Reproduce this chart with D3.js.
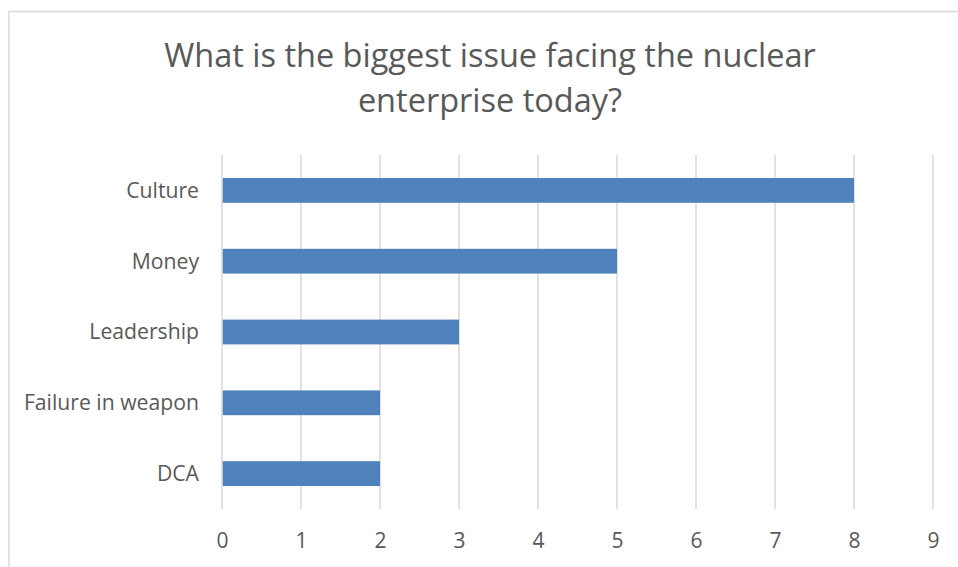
<!DOCTYPE html>
<html>
<head>
<meta charset="utf-8">
<script src="https://cdn.jsdelivr.net/npm/d3@7"></script>
<style>
  html, body { margin: 0; padding: 0; background: #ffffff; }
  svg { display: block; font-family: "Open Sans", "Noto Sans", sans-serif; }
</style>
</head>
<body>
<svg id="chart" width="958" height="567"></svg>
<script>
// Survey answers: count of responses per issue
const categories = ["Culture", "Money", "Leadership", "Failure in weapon", "DCA"];
const responses = [8, 5, 3, 2, 2];
const xTicks = [0, 1, 2, 3, 4, 5, 6, 7, 8, 9];
const titleLines = ["What is the biggest issue facing the nuclear", "enterprise today?"];

const svg = d3.select("#chart");
const W = 958, H = 567;

const plot = { left: 222, right: 933, top: 155, bottom: 509 };
const textColor = "#595959";
const gridColor = "#d9d9d9";
const barColor = "#4f81bd";

// Chart frame
svg.append("rect")
  .attr("x", 9).attr("y", 11.5)
  .attr("width", W).attr("height", H)
  .attr("fill", "#ffffff")
  .attr("stroke", gridColor)
  .attr("stroke-width", 1.5);

// Title
svg.append("g")
  .selectAll("text")
  .data(titleLines)
  .join("text")
  .attr("x", 490)
  .attr("y", (d, i) => 67 + i * 45)
  .attr("text-anchor", "middle")
  .attr("fill", textColor)
  .attr("font-size", 32.5)
  .text(d => d);

const x = d3.scaleLinear()
  .domain([xTicks[0], xTicks[xTicks.length - 1]])
  .range([plot.left, plot.right]);

const y = d3.scaleBand()
  .domain(categories)
  .range([plot.top, plot.bottom])
  .paddingInner(0.65)
  .paddingOuter(0.325);

// Vertical gridlines
svg.append("g")
  .selectAll("line")
  .data(xTicks)
  .join("line")
  .attr("x1", d => x(d)).attr("x2", d => x(d))
  .attr("y1", plot.top).attr("y2", plot.bottom)
  .attr("stroke", gridColor)
  .attr("stroke-width", 1.5);

// Bars
svg.append("g")
  .selectAll("rect")
  .data(categories.map((c, i) => ({ c, v: responses[i] })))
  .join("rect")
  .attr("x", x(0) + 0.75)
  .attr("y", d => y(d.c))
  .attr("width", d => x(d.v) - x(0) - 0.75)
  .attr("height", y.bandwidth())
  .attr("fill", barColor);

// Bottom axis labels
const xAxis = d3.axisBottom(x).tickValues(xTicks).tickSize(0).tickPadding(0).tickFormat(d3.format("d"));
const gx = svg.append("g")
  .attr("transform", `translate(0,${plot.bottom})`)
  .call(xAxis);
gx.select(".domain").remove();
gx.selectAll("text")
  .attr("dy", null)
  .attr("y", 39)
  .attr("fill", textColor)
  .attr("font-size", 21)
  .attr("font-family", "\"Open Sans\", sans-serif");

// Left axis labels
const yAxis = d3.axisLeft(y).tickSize(0).tickPadding(23);
const gy = svg.append("g")
  .attr("transform", `translate(${plot.left},0)`)
  .call(yAxis);
gy.select(".domain").remove();
gy.selectAll("text")
  .attr("dy", "0.35em")
  .attr("fill", textColor)
  .attr("font-size", 21.2)
  .attr("font-family", "\"Open Sans\", sans-serif");
</script>
</body>
</html>
